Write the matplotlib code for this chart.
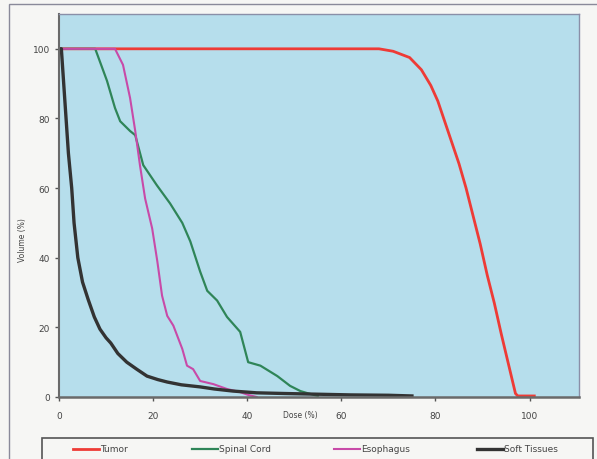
import matplotlib.pyplot as plt
from matplotlib.patches import Rectangle
from matplotlib.lines import Line2D

# dose-volume histogram, values
tumor_dose = [0, 68, 71, 74.5, 77, 79, 80.5, 82, 83.5, 85, 86.5, 88, 89.5, 91,
              92.5, 94, 95.5, 97, 97.5, 101]
tumor_vol = [100, 100, 99.3, 97.5, 94, 89.5, 85, 79, 73, 67, 60, 52, 44, 35,
             27, 18, 9.5, 1, 0.3, 0.3]

cord_dose = [0, 7.7, 10.2, 11.9, 13, 15.1, 16.2, 17.9, 20.8, 23.6, 26.2, 27.9,
             30, 31.5, 33.6, 35.7, 38.5, 40.2, 42.8, 46.4, 49.1, 51.3, 52.8, 55]
cord_vol = [100, 100, 90.8, 83, 79.2, 76.4, 75.2, 66.6, 60.8, 55.6, 50, 44.7,
            36, 30.5, 27.7, 23, 18.7, 10, 9, 6, 3.2, 1.7, 1.1, 0.3]

eso_dose = [0, 11.9, 13.6, 15.1, 16.2, 17.2, 18.3, 19.8, 20.9, 21.9, 23, 24.3,
            26.2, 27.2, 28.5, 30, 32.8, 35.7, 38.5, 40.2, 42]
eso_vol = [100, 100, 95.4, 85.9, 76.4, 66.6, 57, 48.4, 38.9, 29.1, 23.3, 20.5,
           13.8, 9, 8, 4.6, 3.7, 2.3, 1.4, 0.6, 0]

soft_dose = [0, 0.5, 1, 1.5, 2, 2.7, 3.2, 4, 5, 6.2, 7.5, 8.7, 10, 11, 12.5,
             14.4, 16.5, 18.7, 21, 23, 26, 30, 33, 37, 42, 48, 55, 62, 70, 75]
soft_vol = [100, 100, 90, 80, 70, 60, 50, 40, 33, 28, 23, 19.5, 17, 15.5, 12.5,
            10, 8, 6, 5, 4.3, 3.5, 2.9, 2.3, 1.7, 1.2, 1.0, 0.8, 0.6, 0.5, 0.3]

labels = ["Tumor", "Spinal Cord", "Esophagus", "Soft Tissues"]
colors = ["#ee3b36", "#2f8558", "#c84aa8", "#333333"]
widths = [2.0, 1.6, 1.5, 2.4]

fig = plt.figure(figsize=(5.97, 4.6), dpi=100)
fig.patch.set_facecolor("#f6f6f4")

# outer chart frame
fig.patches.append(Rectangle((9 / 597, -0.01), 0.99, 1 - 5 / 460 + 0.01,
                             transform=fig.transFigure, fill=False,
                             edgecolor="#8a8a9a", lw=1.0))

ax = fig.add_axes([59 / 597, 62 / 460, 520 / 597, 383 / 460])
ax.set_facecolor("#b6deec")

series = [(tumor_dose, tumor_vol), (cord_dose, cord_vol),
          (eso_dose, eso_vol), (soft_dose, soft_vol)]
for (d, v), c, w in zip(series, colors, widths):
    ax.plot(d, v, color=c, lw=w, solid_joinstyle="round")

ax.set_xlim(0, 110.5)
ax.set_ylim(0, 110)
ax.set_xticks([0, 20, 40, 60, 80, 100])
ax.set_yticks([0, 20, 40, 60, 80, 100])
ax.tick_params(labelsize=6.5, colors="#555555", length=3, width=1,
               labelcolor="#444444")
ax.tick_params(axis="x", pad=7)
for side, sp in ax.spines.items():
    sp.set_color("#8a8fa8")
    sp.set_linewidth(1.0)
ax.spines["bottom"].set_color("#6a6a6a")
ax.spines["bottom"].set_linewidth(1.8)
ax.spines["left"].set_color("#6a6a6a")
ax.spines["left"].set_linewidth(1.5)

fig.text(300 / 597, 1 - 416 / 460, "Dose (%)", fontsize=5.5, color="#444444",
         ha="center", va="center")
fig.text(22 / 597, 1 - 240 / 460, "Volume (%)", fontsize=5.5, color="#444444",
         ha="center", va="center", rotation=90)

# legend box under the plot
fig.patches.append(Rectangle((42 / 597, -0.02), 551 / 597, (460 - 439) / 460 + 0.02,
                             transform=fig.transFigure, fill=False,
                             edgecolor="#555555", lw=1.2))
leg_x = [73, 192, 334, 477]
for x0, lab, c, w in zip(leg_x, labels, colors, widths):
    y = 1 - 450 / 460
    fig.lines.append(Line2D([x0 / 597, (x0 + 26) / 597], [y, y],
                            transform=fig.transFigure, color=c, lw=w))
    fig.text((x0 + 27) / 597, y, lab, fontsize=6.5, color="#444444",
             ha="left", va="center")

fig.savefig("out.png", dpi=100, facecolor=fig.get_facecolor())
